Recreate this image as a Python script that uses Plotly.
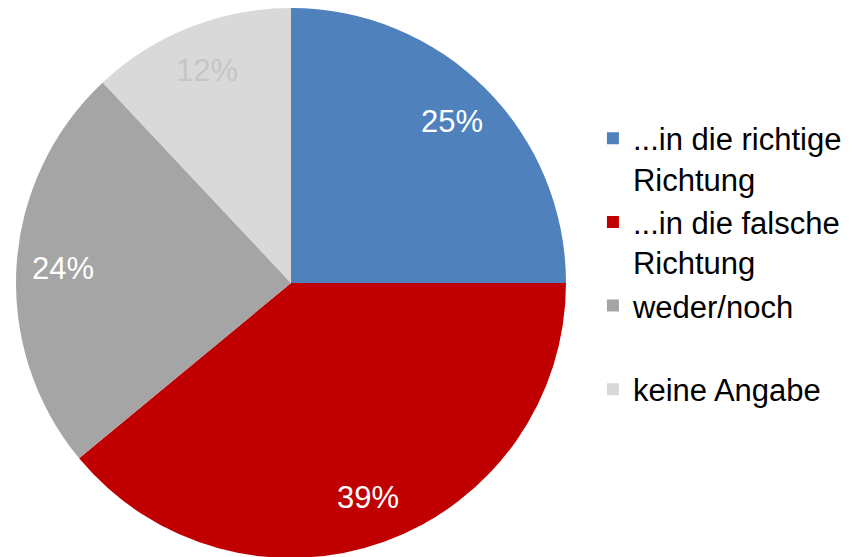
import math
import plotly.graph_objects as go

# Slice data
labels = ['...in die richtige<br>Richtung', '...in die falsche<br>Richtung', 'weder/noch<br> ', 'keine Angabe']
values = [25, 39, 24, 12]
colors = ['#4F81BD', '#C00000', '#A5A5A5', '#D9D9D9']
text_colors = ['white', 'white', 'white', '#C6C6C6']

W, H = 864, 557
# pie geometry in figure pixels (page body adds an 8px offset)
cx, cy, R = 283, 275, 275
label_r = 0.83 * R

fig = go.Figure()

fig.add_trace(go.Pie(
	labels=labels,
	values=values,
	sort=False,
	direction='clockwise',
	rotation=0,
	marker=dict(colors=colors, line=dict(width=0)),
	textinfo='none',
	domain=dict(x=[(cx - R) / W, (cx + R) / W], y=[1 - (cy + R) / H, 1 - (cy - R) / H]),
	hoverinfo='label+percent'
))

# Percent labels placed out towards the rim, like the original
total = sum(values)
cum = 0
for v, c in zip(values, text_colors):
	mid = (cum + v / 2) / total * 2 * math.pi
	cum += v
	px_ = cx + label_r * math.sin(mid)
	py_ = cy - label_r * math.cos(mid)
	fig.add_annotation(
		x=px_ / W, y=1 - py_ / H, xref='paper', yref='paper',
		text=f'{round(v / total * 100)}%', showarrow=False,
		font=dict(size=31, color=c, family='Liberation Sans, Arial, sans-serif'),
		xanchor='center', yanchor='middle'
	)

fig.update_layout(
	width=W,
	height=H,
	margin=dict(l=0, r=0, t=0, b=0),
	paper_bgcolor='white',
	plot_bgcolor='white',
	font=dict(family='Liberation Sans, Arial, sans-serif', color='black'),
	legend=dict(
		x=0.677,
		y=0.54,
		xanchor='left',
		yanchor='middle',
		valign='top',
		font=dict(size=31, color='black'),
		bgcolor='rgba(0,0,0,0)'
	),
	showlegend=True
)

fig.write_html("out.html")
